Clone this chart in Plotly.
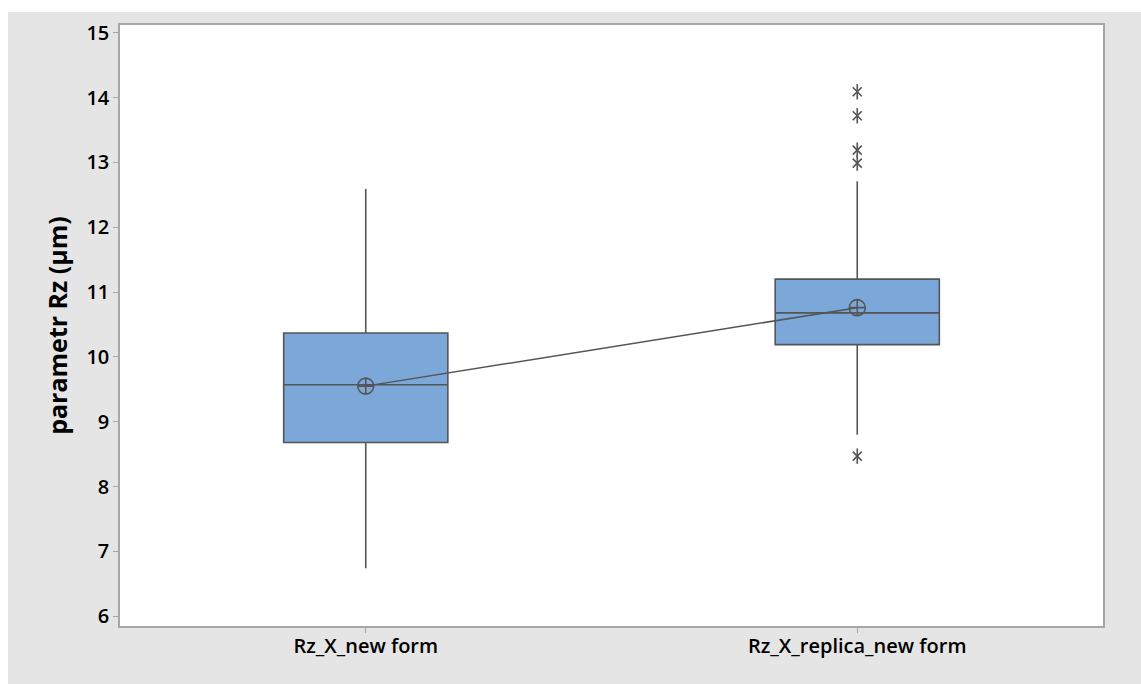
import plotly.graph_objects as go

# Box statistics for each sample
categories = ["Rz_X_new form", "Rz_X_replica_new form"]
q1 = [8.68, 10.19]
median = [9.57, 10.68]
q3 = [10.37, 11.20]
lower_whisker = [6.74, 8.80]
upper_whisker = [12.59, 12.71]
means = [9.55, 10.76]

# Outliers (category, value)
outlier_cat = ["Rz_X_replica_new form"] * 5
outlier_val = [14.09, 13.72, 13.19, 12.99, 8.47]

y_ticks = [6, 7, 8, 9, 10, 11, 12, 13, 14, 15]

LINE = "#555555"
FILL = "#7BA7D9"
PANEL = "#E5E5E5"
AXIS = "#A6A6A6"
FONT = "Open Sans"

W, H = 1141, 684
ML, MR, MT, MB = 120, 38, 25, 58
PW, PH = W - ML - MR, H - MT - MB

fig = go.Figure()

fig.add_trace(go.Box(
    x=categories,
    q1=q1, median=median, q3=q3,
    lowerfence=lower_whisker, upperfence=upper_whisker,
    fillcolor=FILL,
    line=dict(color=LINE, width=1.6),
    whiskerwidth=0,
    width=0.334,
    boxpoints=False,
    showlegend=False,
    hoverinfo="skip",
))

# Mean connect line with circle-cross symbols
fig.add_trace(go.Scatter(
    x=categories, y=means,
    mode="lines+markers",
    line=dict(color=LINE, width=1.5),
    marker=dict(symbol="circle-cross-open", size=16, color=LINE,
                line=dict(color=LINE, width=1.6)),
    showlegend=False, hoverinfo="skip",
))

# Outliers drawn as six-armed asterisks (x + vertical stroke)
for sym in ["x-thin-open", "line-ns-open"]:
    fig.add_trace(go.Scatter(
        x=outlier_cat, y=outlier_val,
        mode="markers",
        marker=dict(symbol=sym, size=11 if sym == "line-ns-open" else 9,
                    color=LINE, line=dict(color=LINE, width=1.6)),
        showlegend=False, hoverinfo="skip",
    ))

# White page strips around the grey panel
fig.add_shape(type="rect", xref="paper", yref="paper", layer="below",
              x0=-ML / PW, x1=(8 - ML) / PW, y0=-MB / PH, y1=1 + MT / PH,
              fillcolor="white", line=dict(width=0))
fig.add_shape(type="rect", xref="paper", yref="paper", layer="below",
              x0=-ML / PW, x1=1 + MR / PW, y0=1 + (MT - 12) / PH, y1=1 + MT / PH,
              fillcolor="white", line=dict(width=0))

fig.update_layout(
    width=W, height=H,
    margin=dict(l=ML, r=MR, t=MT, b=MB),
    paper_bgcolor=PANEL,
    plot_bgcolor="white",
    font=dict(family=FONT, color="#000000", size=20, weight=600),
    xaxis=dict(
        type="category",
        range=[-0.5, 1.5],
        showline=True, linecolor=AXIS, linewidth=1.5, mirror=True,
        ticks="outside", ticklen=5, tickcolor=AXIS, tickwidth=1,
        ticklabelstandoff=-4,
        showgrid=False, zeroline=False,
        tickfont=dict(family=FONT, size=20, weight=600),
    ),
    yaxis=dict(
        range=[5.85, 15.12],
        tickvals=y_ticks,
        showline=True, linecolor=AXIS, linewidth=1.5, mirror=True,
        ticks="outside", ticklen=5, tickcolor=AXIS, tickwidth=1,
        showgrid=False, zeroline=False,
        tickfont=dict(family=FONT, size=20, weight=600),
        title=dict(text="parametr Rz (µm)", standoff=12,
                   font=dict(family=FONT, size=25, weight=700)),
    ),
)

fig.write_html("out.html")
